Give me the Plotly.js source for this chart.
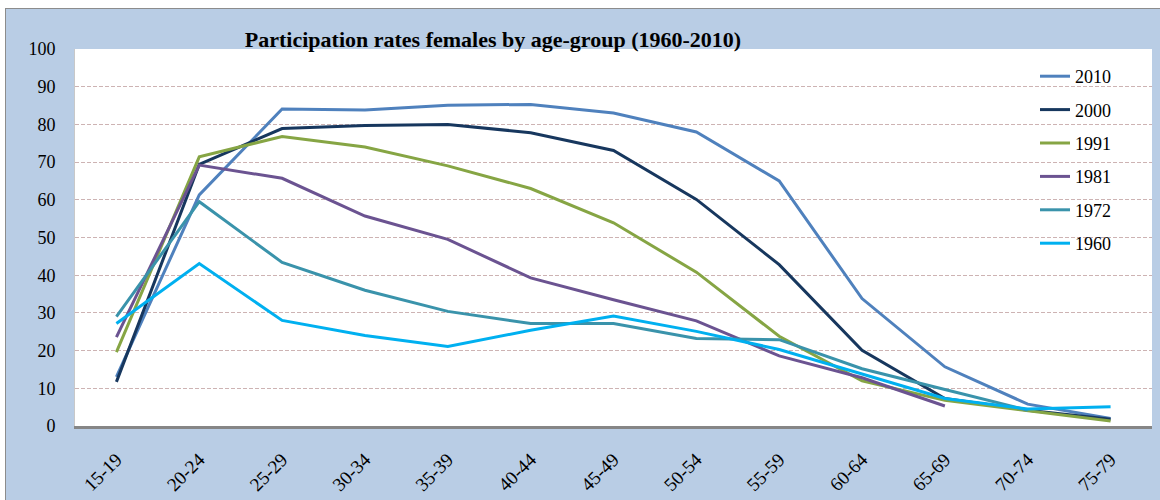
<!DOCTYPE html>
<html>
<head>
<meta charset="utf-8">
<script src="https://cdn.plot.ly/plotly-3.0.1.min.js"></script>
<style>
  html, body { margin: 0; padding: 0; background: #ffffff; width: 1160px; height: 500px; overflow: hidden; }
  #bg { position: absolute; left: 5px; top: 8px; width: 1155px; height: 492px; background: #B9CDE5;
        border-left: 1px solid #8c8c8c; border-top: 1px solid #8c8c8c; box-sizing: border-box; }
  #chart { position: absolute; left: 0; top: 0; width: 1160px; height: 500px; }
</style>
</head>
<body>
<div id="bg"></div>
<div id="chart"></div>
<script>
const categories = ['15-19','20-24','25-29','30-34','35-39','40-44','45-49','50-54','55-59','60-64','65-69','70-74','75-79'];
const seriesNames = ['2010','2000','1991','1981','1972','1960'];
const y2010 = [13.0, 61.3, 84.1, 83.8, 85.1, 85.3, 83.0, 78.0, 65.0, 33.8, 15.7, 5.8, 2.0];
const y2000 = [11.7, 69.4, 78.9, 79.7, 80.0, 77.8, 73.1, 60.1, 42.8, 20.1, 7.3, 4.2, 1.8];
const y1991 = [19.6, 71.4, 76.8, 74.0, 69.0, 63.0, 53.9, 40.8, 23.8, 12.0, 6.8, 4.0, 1.3];
const y1981 = [23.6, 69.2, 65.7, 55.7, 49.5, 39.3, 33.5, 27.9, 18.6, 12.8, 5.3, null, null];
const y1972 = [29.0, 59.5, 43.4, 36.0, 30.4, 27.2, 27.2, 23.2, 22.9, 15.2, 9.7, 4.2, null];
const y1960 = [27.2, 43.1, 28.0, 24.0, 21.1, 25.4, 29.2, 25.1, 20.3, 13.9, 7.3, 4.5, 5.1];
const seriesValues = [y2010, y2000, y1991, y1981, y1972, y1960];
const seriesColors = ['#4F81BD', '#17375E', '#86A544', '#6B5391', '#3A93AB', '#00B0F0'];

const serif = "'Liberation Serif', 'Times New Roman', serif";

const traces = seriesNames.map((name, i) => ({
  type: 'scatter',
  mode: 'lines',
  name: name,
  legendgroup: name,
  x: categories,
  y: seriesValues[i],
  line: { color: seriesColors[i], width: 3 },
  connectgaps: false,
  hoverinfo: 'x+y+name'
}));

const layout = {
  width: 1160,
  height: 500,
  margin: { l: 75, r: 8, t: 49, b: 74, pad: 0, autoexpand: false },
  paper_bgcolor: 'rgba(0,0,0,0)',
  plot_bgcolor: '#ffffff',
  showlegend: true,
  title: {
    text: '<b>Participation rates females by age-group (1960-2010)</b>',
    font: { family: serif, size: 22, color: '#000000' },
    x: 493 / 1160, xref: 'container', xanchor: 'center',
    y: 1 - 39 / 500, yref: 'container', yanchor: 'middle'
  },
  xaxis: {
    type: 'category',
    range: [-0.5, 12.5],
    showgrid: false,
    zeroline: false,
    showline: true,
    linecolor: '#868686',
    linewidth: 3,
    ticks: 'outside',
    ticklen: 12,
    tickcolor: 'rgba(0,0,0,0)',
    tickangle: -45,
    tickfont: { family: serif, size: 19, color: '#000000' },
    fixedrange: true
  },
  yaxis: {
    range: [0, 100],
    dtick: 10,
    tick0: 0,
    showgrid: true,
    gridcolor: '#CDB3B3',
    gridwidth: 1,
    griddash: '4px,2px',
    zeroline: false,
    showline: true,
    linecolor: '#C8C8C8',
    linewidth: 1,
    ticks: 'outside',
    ticklen: 15,
    tickcolor: 'rgba(0,0,0,0)',
    tickfont: { family: serif, size: 18, color: '#000000' },
    fixedrange: true
  },
  legend: {
    x: (1035 - 75) / 1077, xref: 'paper', xanchor: 'left',
    y: (426 - 58) / 377, yref: 'paper', yanchor: 'top',
    bgcolor: 'rgba(255,255,255,0)',
    borderwidth: 0,
    font: { family: serif, size: 18, color: '#000000' },
    traceorder: 'grouped',
    tracegroupgap: 7
  }
};

Plotly.newPlot('chart', traces, layout, { displayModeBar: false, staticPlot: true });
</script>
</body>
</html>
